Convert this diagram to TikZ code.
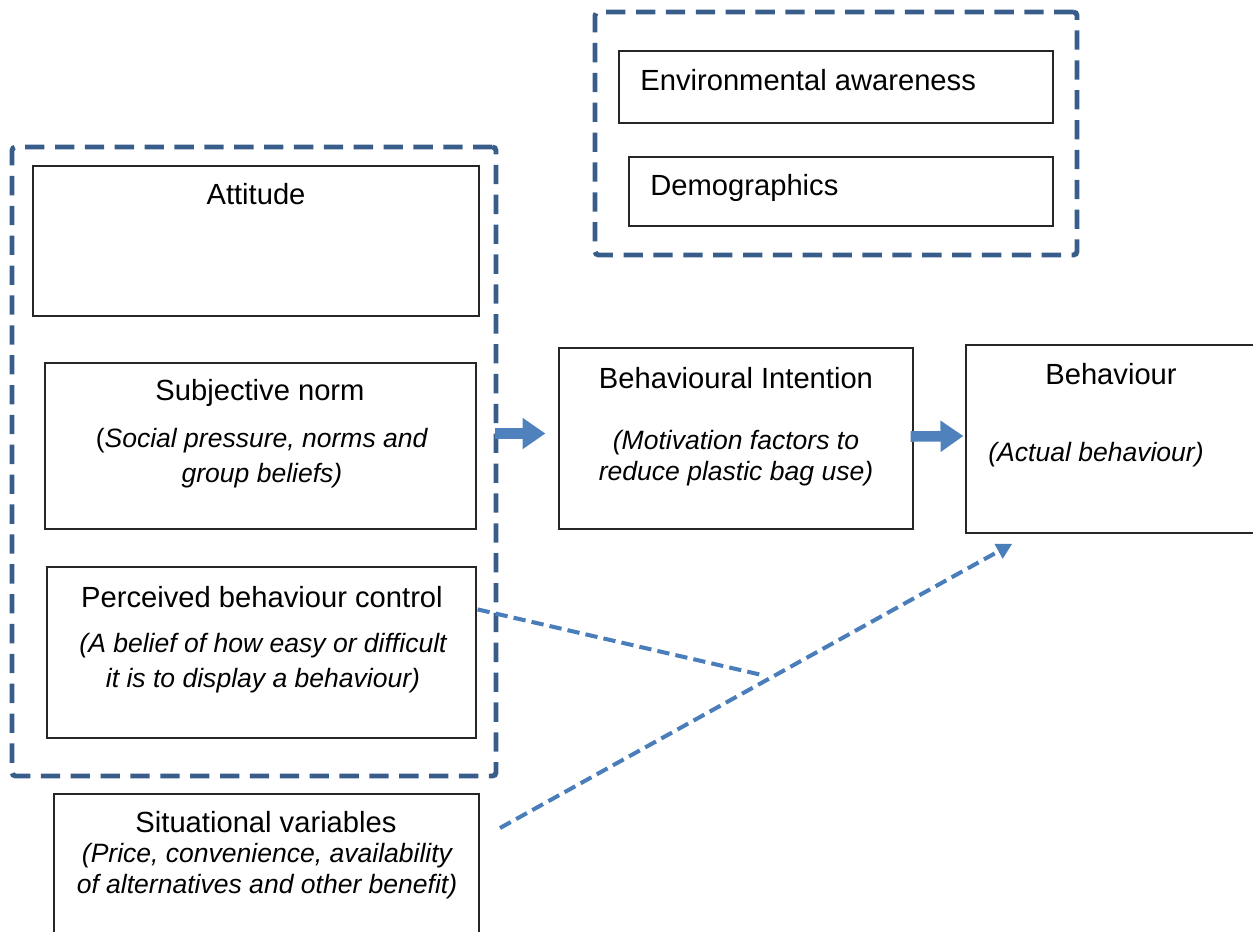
\documentclass[tikz,border=0pt]{standalone}
\usepackage{fontspec}
\setmainfont{Liberation Sans}
\usepackage{tikz}
\usetikzlibrary{arrows.meta, positioning, calc, fit}
\usepackage{xcolor}
\definecolor{groupblue}{RGB}{56,93,138}
\definecolor{linkblue}{RGB}{74,126,187}
\definecolor{arrowblue}{RGB}{79,129,189}

\tikzset{
  box/.style={draw=black!85, line width=0.7pt, inner sep=0pt},
  group/.style={draw=groupblue, line width=2.8pt, dash pattern=on 11pt off 6pt, rounded corners=2pt, inner sep=0pt},
  lbl/.style={inner sep=0pt, font=\fontsize{16.6}{18}\selectfont, align=center},
  sublbl/.style={inner sep=0pt, font=\fontsize{15.1}{17.6}\selectfont\itshape, align=center},
  blockarrow/.style={draw=arrowblue, line width=6pt, -{Triangle[length=13pt,width=17pt]}},
  dashline/.style={draw=linkblue, line width=2.3pt, dash pattern=on 7pt off 3.5pt},
  dasharrow/.style={dashline, -{Triangle[length=9pt,width=9pt]}}
}

\begin{document}
\begin{tikzpicture}[x=0.02cm, y=-0.02cm]
  \useasboundingbox (0,0) rectangle (1253,931);

  % groups
  \node[group, fit={(595,12) (1077,255)}] (groupT) {};
  \node[group, fit={(12,147) (496,776)}] (groupL) {};

  % boxes
  \node[box, fit={(619,51) (1053,123)}] (env) {};
  \node[box, fit={(629,157) (1053,226)}] (demo) {};
  \node[box, fit={(33,166) (479,316)}] (att) {};
  \node[box, fit={(45,363) (476,529)}] (sn) {};
  \node[box, fit={(47,567) (476,738)}] (pbc) {};
  \node[box, fit={(54,794) (479,960)}] (sit) {};
  \node[box, fit={(559,348) (913,529)}] (intent) {};
  \node[box, fit={(966,345) (1260,533)}] (beh) {};

  % texts
  \node[lbl, anchor=west] (envtxt) at (640,80) {Environmental awareness};
  \node[lbl, anchor=west] (demotxt) at (650,188) {Demographics};
  \node[lbl] (atttxt) at (256,194) {Attitude};
  \node[lbl] (sntxt) at (260,393) {Subjective norm};
  \node[sublbl, font=\fontsize{15.1}{20}\selectfont] (snsub) at (262,458)
    {(\textit{Social pressure, norms and}\\\textit{group beliefs)}};
  \node[lbl] (pbctxt) at (262,597) {Perceived behaviour control};
  \node[sublbl, font=\fontsize{15.1}{20}\selectfont\itshape] (pbcsub) at (263,663)
    {(A belief of how easy or difficult\\it is to display a behaviour)};
  \node[lbl] (sittxt) at (266,822) {Situational variables};
  \node[sublbl] (sitsub) at (267,871)
    {(Price, convenience, availability\\of alternatives and other benefit)};
  \node[lbl] (inttxt) at (736,378) {Behavioural Intention};
  \node[sublbl] (intsub) at (736,458)
    {(Motivation factors to\\reduce plastic bag use)};
  \node[lbl] (behtxt) at (1111,374) {Behaviour};
  \node[sublbl] (behsub) at (1096,455) {(Actual behaviour)};

  % connectors
  \draw[blockarrow] ($(groupL.east |- intent.center)+(-3,-5)$) -- ($(intent.west)+(-13,-5)$);
  \draw[blockarrow] ($(intent.east)+(-3,-2)$) -- ($(beh.west)+(-2,-3)$);

  \coordinate (meet) at (762,675);
  \coordinate (sitend) at (500,828);
  \draw[dashline] ($(pbc.north east)+(1,43)$) -- (meet);
  \draw[dasharrow] (sitend) -- ($(beh.south west)+(47,10)$);
\end{tikzpicture}
\end{document}
